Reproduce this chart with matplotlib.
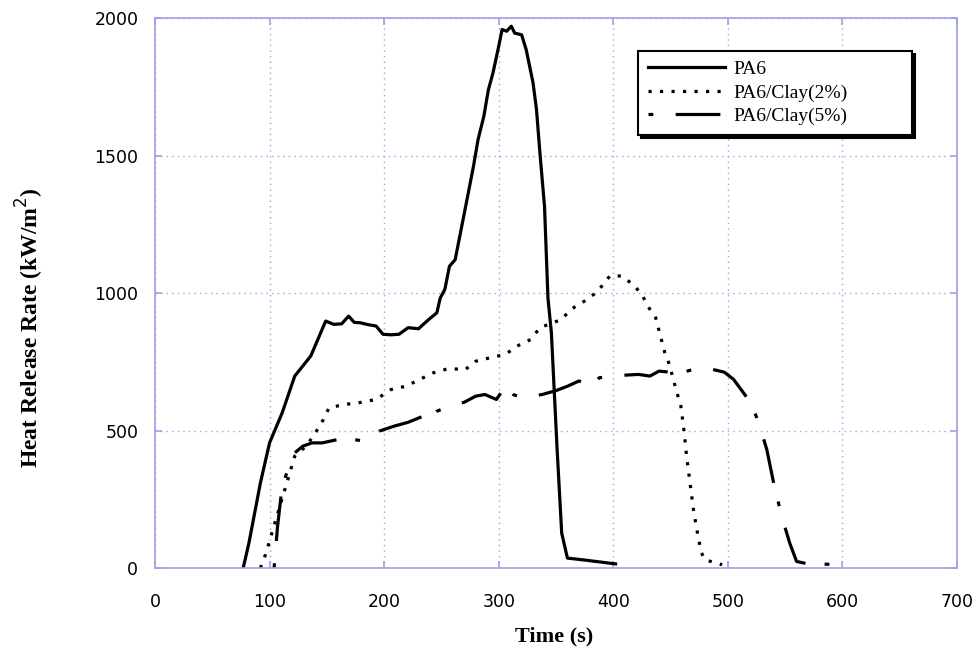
import matplotlib
matplotlib.use("Agg")
import matplotlib.pyplot as plt

# ---- data ----
t_pa6 = [77, 82, 92, 100, 111, 122, 136, 149, 156, 163, 169, 174, 179, 186, 193, 199, 206, 213,
         221, 230, 239, 246, 249, 253, 257, 262, 270, 278, 282, 287, 291, 295, 300, 303, 307, 311,
         314, 320, 324, 330, 333, 336, 340, 343, 346, 351, 355, 360, 373, 402]
hrr_pa6 = [0, 91, 309, 455, 564, 698, 771, 898, 886, 888, 916, 893, 892, 885, 880, 850, 848, 850,
           874, 870, 904, 928, 982, 1013, 1097, 1121, 1290, 1461, 1558, 1642, 1739, 1800, 1897, 1958,
           1952, 1970, 1945, 1939, 1885, 1764, 1667, 1509, 1315, 982, 855, 431, 127, 36, 30, 15]

t_c2 = [92, 97, 102, 109, 116, 122, 132, 141, 147, 152, 166, 178, 193, 206, 219, 243, 256, 271,
        280, 293, 306, 316, 328, 336, 355, 363, 373, 383, 390, 397, 407, 417, 425, 430, 437, 442,
        445, 449, 454, 459, 462, 464, 467, 470, 474, 477, 480, 495]
hrr_c2 = [0, 55, 127, 225, 322, 407, 443, 498, 540, 583, 595, 601, 613, 649, 661, 710, 725, 722,
          752, 765, 777, 807, 831, 874, 904, 941, 965, 995, 1025, 1062, 1062, 1032, 995, 953, 910,
          831, 783, 740, 661, 589, 491, 407, 309, 212, 115, 55, 30, 12]

t_c5 = [104, 107, 111, 116, 122, 129, 137, 146, 157, 168, 174, 183, 196, 208, 221, 234, 239, 246,
        258, 270, 280, 288, 298, 306, 313, 321, 338, 350, 360, 370, 380, 388, 405, 422, 432, 440,
        450, 460, 474, 487, 497, 505, 520, 527, 534, 540, 547, 554, 560, 570, 585, 600]
hrr_c5 = [0, 152, 297, 358, 419, 443, 455, 455, 465, 473, 467, 461, 498, 515, 530, 552, 540, 570,
          590, 603, 625, 631, 613, 661, 630, 619, 631, 645, 661, 680, 667, 692, 700, 704, 698, 716,
          712, 710, 728, 722, 712, 686, 601, 528, 431, 309, 188, 91, 24, 15, 14, 12]

labels = ["PA6", "PA6/Clay(2%)", "PA6/Clay(5%)"]
x_ticks = [0, 100, 200, 300, 400, 500, 600, 700]
y_ticks = [0, 500, 1000, 1500, 2000]

# ---- figure ----
fig = plt.figure(figsize=(9.79, 6.52), dpi=100)
ax = fig.add_axes([0.1583, 0.1288, 0.8192, 0.8436])

axis_col = "#a0a0e6"
lw = 2.3
ax.plot(t_pa6, hrr_pa6, color="black", lw=lw, solid_joinstyle="round", label=labels[0])
ax.plot(t_c2, hrr_c2, color="black", lw=lw, linestyle=(0, (1.0, 2.6)), label=labels[1])
ax.plot(t_c5, hrr_c5, color="black", lw=lw, linestyle=(0, (1.5, 7, 14, 6)), label=labels[2])

ax.set_xlim(0, 700)
ax.set_ylim(0, 2000)
ax.set_xticks(x_ticks)
ax.set_yticks(y_ticks)
ax.grid(True, color=axis_col, linestyle=(0, (1, 3)), lw=1)
for s in ax.spines.values():
    s.set_color(axis_col)
    s.set_linewidth(1.2)
ax.tick_params(axis="both", direction="in", color=axis_col, length=5, width=1.2,
               top=True, right=True, labelsize=12.5)
ax.tick_params(axis="x", pad=18)
ax.tick_params(axis="y", pad=12)
for lab in ax.get_xticklabels() + ax.get_yticklabels():
    lab.set_family("DejaVu Sans")

ax.set_xlabel("Time (s)", family="Liberation Serif", fontweight="bold", fontsize=16)
ax.xaxis.set_label_coords(0.498, -0.107)
ax.set_ylabel("Heat Release Rate (kW/m$^2$)", family="Liberation Serif", fontweight="bold",
              fontsize=17)
ax.yaxis.set_label_coords(-0.136, 0.438)

leg = ax.legend(loc="upper left", bbox_to_anchor=(0.590, 0.62, 0.366, 0.338), mode="expand",
                prop={"family": "Liberation Serif", "size": 14}, handlelength=4.0,
                handletextpad=0.4, labelspacing=0.3, borderpad=0.5, fancybox=False,
                framealpha=1, edgecolor="black",
                shadow={"color": "black", "alpha": 1})
leg.get_frame().set_linewidth(1.5)

fig.savefig("out.png", dpi=100)
